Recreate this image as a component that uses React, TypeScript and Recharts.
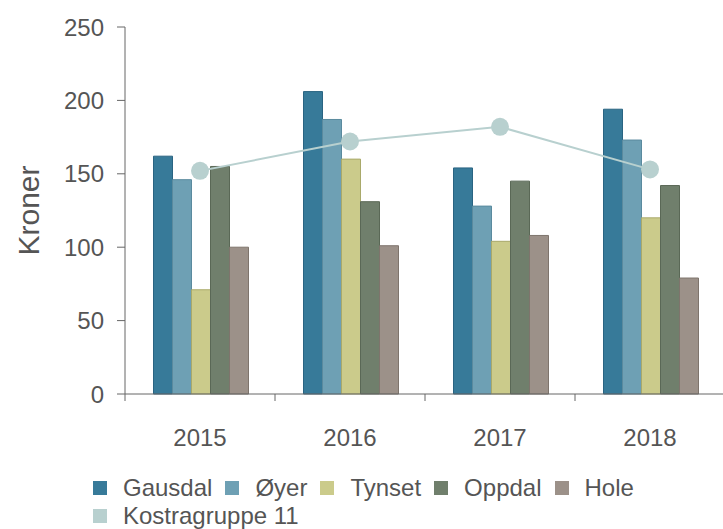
import React from 'react';
import { ComposedChart, Bar, Line, XAxis, YAxis, Label } from 'recharts';

const years = ['2015', '2016', '2017', '2018'];
const gausdal = [162, 206, 154, 194];
const oyer = [146, 187, 128, 173];
const tynset = [71, 160, 104, 120];
const oppdal = [155, 131, 145, 142];
const hole = [100, 101, 108, 79];
const kostra = [152, 172, 182, 153];
const yTicks = [0, 50, 100, 150, 200, 250];

const barSeries = [
  { key: 'Gausdal', values: gausdal, fill: '#377a99', stroke: '#2a6482' },
  { key: 'Øyer', values: oyer, fill: '#6ea0b4', stroke: '#5a8a9e' },
  { key: 'Tynset', values: tynset, fill: '#cbcb8b', stroke: '#a9a96a' },
  { key: 'Oppdal', values: oppdal, fill: '#707f6c', stroke: '#5a6856' },
  { key: 'Hole', values: hole, fill: '#9c9189', stroke: '#7e746c' },
];
const lineSeries = { key: 'Kostragruppe 11', values: kostra, color: '#b8d0cf' };

const data = years.map((year, i) => {
  const row: Record<string, string | number> = { year };
  barSeries.forEach((s) => (row[s.key] = s.values[i]));
  row[lineSeries.key] = lineSeries.values[i];
  return row;
});

const FONT = '"Liberation Sans", Arial, sans-serif';
const TEXT = '#555';
const AXIS = '#666';

const YearTick = (props: any) => {
  const { x, y, payload, index, visibleTicksCount, width } = props;
  const half = payload?.offset || (width && visibleTicksCount ? width / visibleTicksCount / 2 : 75);
  return (
    <g>
      <line x1={x - half} y1={y} x2={x - half} y2={y + 7} stroke={AXIS} />
      {index === visibleTicksCount - 1 && (
        <line x1={x + half} y1={y} x2={x + half} y2={y + 7} stroke={AXIS} />
      )}
      <text x={x} y={y + 52} textAnchor="middle" fill={TEXT} fontSize={24} fontFamily={FONT}>
        {payload.value}
      </text>
    </g>
  );
};

const legendItems = [
  ...barSeries.map((s) => ({ name: s.key, color: s.fill })),
  { name: lineSeries.key, color: lineSeries.color },
];

export default function App() {
  return (
    <div style={{ position: 'absolute', left: 0, top: 0, width: 723, height: 529, overflow: 'hidden', background: '#fff' }}>
      <ComposedChart
        width={730}
        height={529}
        data={data}
        margin={{ top: 27, right: 5, left: 0, bottom: 75 }}
        barCategoryGap="19%"
        barGap={0}
      >
        <XAxis
          dataKey="year"
          height={60}
          stroke={AXIS}
          tickLine={false}
          tickSize={0}
          tickMargin={0}
          tick={<YearTick />}
          interval={0}
        />
        <YAxis
          width={125}
          domain={[0, 250]}
          ticks={yTicks}
          stroke={AXIS}
          tickSize={8}
          tickMargin={13}
          tick={{ fill: TEXT, fontSize: 24, fontFamily: FONT }}
        >
          <Label
            content={({ viewBox }: any) => {
              const cx = (viewBox?.x ?? 0) + 28;
              const cy = (viewBox?.y ?? 27) + (viewBox?.height ?? 367) / 2;
              return (
                <text
                  x={cx}
                  y={cy}
                  transform={`rotate(-90 ${cx} ${cy})`}
                  textAnchor="middle"
                  dominantBaseline="central"
                  fill={TEXT}
                  fontSize={30}
                  fontFamily={FONT}
                >
                  Kroner
                </text>
              );
            }}
          />
        </YAxis>
        {barSeries.map((s) => (
          <Bar
            key={s.key}
            dataKey={s.key}
            fill={s.fill}
            stroke={s.stroke}
            strokeWidth={1}
            isAnimationActive={false}
          />
        ))}
        <Line
          dataKey={lineSeries.key}
          stroke={lineSeries.color}
          strokeWidth={2}
          dot={{ r: 9, fill: lineSeries.color, stroke: 'none' }}
          activeDot={false}
          isAnimationActive={false}
        />
      </ComposedChart>
      <div
        style={{
          position: 'absolute',
          left: 93,
          top: 474,
          width: 600,
          display: 'flex',
          flexWrap: 'wrap',
          columnGap: 13,
          fontFamily: FONT,
          fontSize: 24,
          color: TEXT,
          lineHeight: '28px',
        }}
      >
        {legendItems.map((item, i) => (
          <div key={item.name} style={{ display: 'flex', alignItems: 'center', flexBasis: i === legendItems.length - 1 ? '100%' : 'auto' }}>
            <span style={{ width: 14, height: 14, background: item.color, marginRight: 16, display: 'inline-block' }} />
            <span>{item.name}</span>
          </div>
        ))}
      </div>
    </div>
  );
}
